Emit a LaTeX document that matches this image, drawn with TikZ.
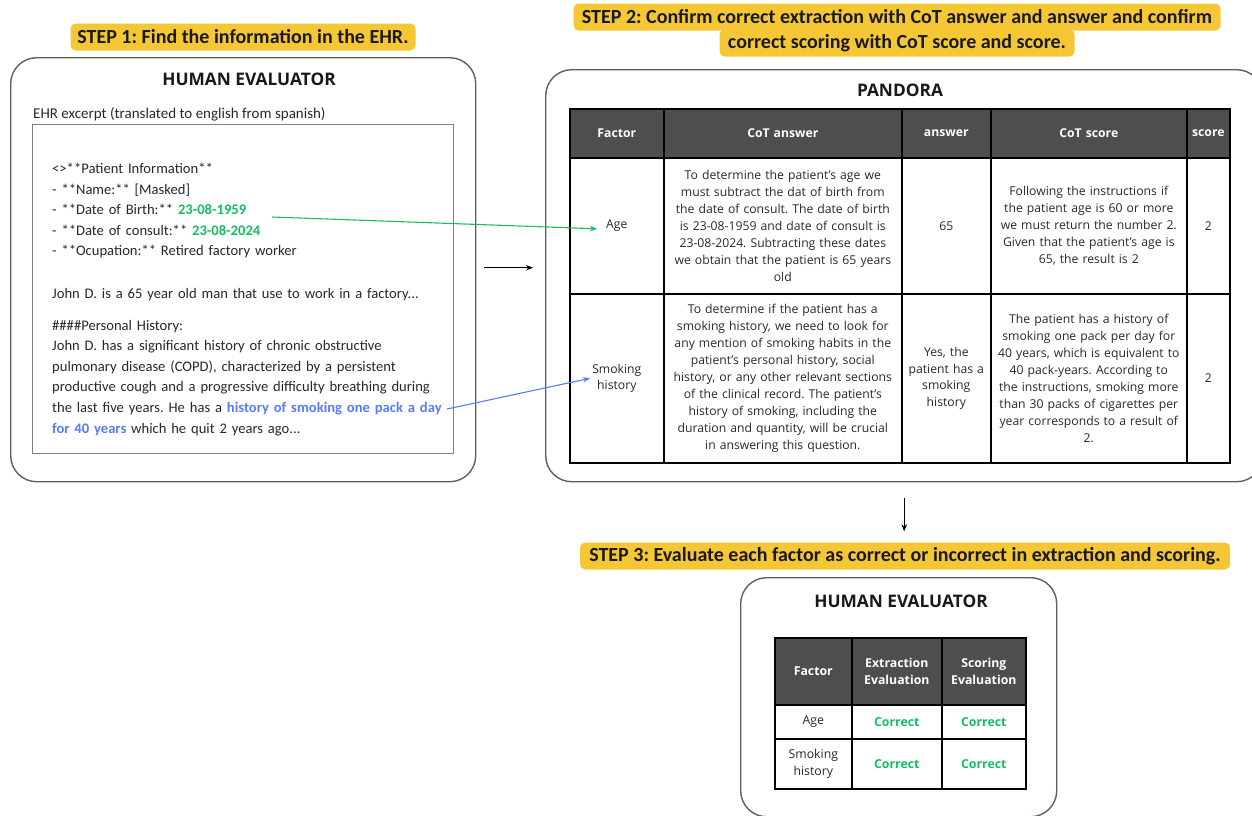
\documentclass[tikz,border=0pt]{standalone}
\usepackage{fontspec}
\setmainfont{Open Sans}
\newfontfamily\calibri{Carlito}
\frenchspacing
\usetikzlibrary{arrows.meta}
\usetikzlibrary{positioning}
\definecolor{stepyellow}{RGB}{245,199,52}
\definecolor{hdrgray}{RGB}{78,78,78}
\definecolor{panelgray}{RGB}{95,95,95}
\definecolor{hlgreen}{RGB}{20,190,96}
\definecolor{hlblue}{RGB}{88,122,255}
\definecolor{txt}{RGB}{40,40,40}
\tikzset{steplabel/.style = {fill=stepyellow, rounded corners=5pt, inner xsep=6pt,
                             minimum height=27pt, text=black!90,
                             font=\calibri\bfseries\fontsize{20}{22}\selectfont},
         panel/.style = {draw=panelgray, line width=1.4pt, rounded corners=26pt,
                         anchor=north west, inner sep=0pt},
         title/.style = {font=\bfseries\fontsize{17.3}{19}\selectfont, text=black!90},
         cell/.style = {draw=black, line width=1.6pt, anchor=north west, inner sep=0pt,
                        align=center, text=txt, font=\fontsize{12.2}{16.9}\selectfont},
         headcell/.style = {cell, fill=hdrgray, text=white,
                            font=\bfseries\fontsize{12.2}{16.9}\selectfont},
         okcell/.style = {cell, text=hlgreen, font=\bfseries\fontsize{12.3}{16.9}\selectfont},
         arrow/.style = {-{Stealth[length=7pt,width=5.5pt]}, line width=1.1pt}}

\begin{document}
\begin{tikzpicture}[x=1pt, y=-1pt]
  \useasboundingbox (0,0) rectangle (1252,815);

  \node [steplabel, minimum width=345pt] (step1) at (243,37) {STEP 1: Find the information in the EHR.};
  \node [steplabel, minimum width=647pt] (step2a) at (897,17) {STEP 2: Confirm correct extraction with CoT answer and answer and confirm};
  \node [steplabel, minimum width=355pt] (step2b) at (897,43) {correct scoring with CoT score and score.};
  \node [steplabel, minimum width=650pt] (step3) at (905,556) {STEP 3: Evaluate each factor as correct or incorrect in extraction and scoring.};

  \node [panel, minimum width=465pt, minimum height=424pt] (human) at (10,57) {};
  \node [title] (humantitle) at (249,79) {HUMAN EVALUATOR};
  \node [anchor=west, inner sep=0pt, text=txt, font=\calibri\fontsize{15}{17}\selectfont] (ehrcap) at (33,114) {EHR excerpt (translated to english from spanish)};
  \node [draw=gray, line width=0.8pt, anchor=north west, inner sep=0pt,
         minimum width=421pt, minimum height=329pt] (ehrbox) at (32,124) {};
  \node [anchor=north west, align=left, text width=400pt, inner sep=0pt, text=txt,
         font=\calibri\fontsize{14.6}{20.6}\selectfont] (ehrtext) at (52,163)
        {<>**Patient Information**\\
         - **Name:** [Masked]\\
         - **Date of Birth:** \textcolor{hlgreen}{\bfseries 23-08-1959}\\
         - **Date of consult:** \textcolor{hlgreen}{\bfseries 23-08-2024}\\
         - **Ocupation:** Retired factory worker\\[22pt]
         John D. is a 65 year old man that use to work in a factory...\\[11pt]
         \#\#\#\#Personal History:\\
         John D. has a significant history of chronic obstructive\\
         pulmonary disease (COPD), characterized by a persistent\\
         productive cough and a progressive difficulty breathing during\\
         the last five years. He has a \textcolor{hlblue}{\bfseries history of smoking one pack a day}\\
         \textcolor{hlblue}{\bfseries for 40 years} which he quit 2 years ago...};
  \coordinate (dobend) at (272,217);
  \coordinate (smokeend) at (447,409);

  \node [panel, minimum width=717pt, minimum height=412pt] (pandora) at (545,69) {};
  \node [title] (pandoratitle) at (900,90) {PANDORA};

  \node [headcell, minimum width=94pt, minimum height=49pt, text width=92pt] (hF) at (569,108) {Factor};
  \node [headcell, minimum width=238pt, minimum height=49pt, text width=236pt] (hCa) at (663,108) {CoT answer};
  \node [headcell, minimum width=89pt, minimum height=49pt, text width=87pt] (hA) at (901,108) {answer};
  \node [headcell, minimum width=196pt, minimum height=49pt, text width=194pt] (hCs) at (990,108) {CoT score};
  \node [headcell, minimum width=43pt, minimum height=49pt, text width=43pt] (hS) at (1186,108) {score};

  \node [cell, minimum width=94pt, minimum height=136pt, text width=92pt] (ageF) at (569,157) {Age};
  \node [cell, minimum width=238pt, minimum height=136pt, text width=238pt] (ageCa) at (663,157)
        {To determine the patient’s age we\\ must subtract the dat of birth from\\
         the date of consult. The date of birth\\ is 23-08-1959 and date of consult is\\
         23-08-2024. Subtracting these dates\\ we obtain that the patient is 65 years\\ old};
  \node [cell, minimum width=89pt, minimum height=136pt, text width=87pt] (ageA) at (901,157) {65};
  \node [cell, minimum width=196pt, minimum height=136pt, text width=196pt] (ageCs) at (990,157)
        {Following the instructions if\\ the patient age is 60 or more\\
         we must return the number 2.\\ Given that the patient’s age is\\ 65, the result is 2};
  \node [cell, minimum width=43pt, minimum height=136pt, text width=41pt] (ageS) at (1186,157) {2};

  \node [cell, minimum width=94pt, minimum height=169pt, text width=92pt] (smokeF) at (569,293) {Smoking\\ history};
  \node [cell, minimum width=238pt, minimum height=169pt, text width=238pt] (smokeCa) at (663,293)
        {To determine if the patient has a\\ smoking history, we need to look for\\
         any mention of smoking habits in the\\ patient's personal history, social\\
         history, or any other relevant sections\\ of the clinical record. The patient's\\
         history of smoking, including the\\ duration and quantity, will be crucial\\
         in answering this question.};
  \node [cell, minimum width=89pt, minimum height=169pt, text width=89pt] (smokeA) at (901,293)
        {Yes, the\\ patient has a\\ smoking\\ history};
  \node [cell, minimum width=196pt, minimum height=169pt, text width=196pt] (smokeCs) at (990,293)
        {The patient has a history of\\ smoking one pack per day for\\
         40 years, which is equivalent to\\ 40 pack-years. According to\\
         the instructions, smoking more\\ than 30 packs of cigarettes per\\
         year corresponds to a result of\\ 2.};
  \node [cell, minimum width=43pt, minimum height=169pt, text width=41pt] (smokeS) at (1186,293) {2};

  \node [panel, minimum width=316pt, minimum height=239pt] (review) at (740,577) {};
  \node [title] (reviewtitle) at (901,601) {HUMAN EVALUATOR};

  \node [headcell, minimum width=77pt, minimum height=67pt, text width=77pt,
         font=\bfseries\fontsize{12.3}{16.9}\selectfont] (rF) at (774,637) {Factor};
  \node [headcell, minimum width=90pt, minimum height=67pt, text width=90pt,
         font=\bfseries\fontsize{12.3}{16.9}\selectfont] (rE) at (851,637) {Extraction\\ Evaluation};
  \node [headcell, minimum width=84pt, minimum height=67pt, text width=84pt,
         font=\bfseries\fontsize{12.3}{16.9}\selectfont] (rS) at (941,637) {Scoring\\ Evaluation};
  \node [cell, minimum width=77pt, minimum height=34pt, text width=75pt,
         font=\fontsize{12.3}{16.9}\selectfont] (rageF) at (774,704) {Age};
  \node [okcell, minimum width=90pt, minimum height=34pt, text width=88pt] (rageE) at (851,704) {Correct};
  \node [okcell, minimum width=84pt, minimum height=34pt, text width=82pt] (rageS) at (941,704) {Correct};
  \node [cell, minimum width=77pt, minimum height=50pt, text width=75pt,
         font=\fontsize{12.3}{16.9}\selectfont] (rsmokeF) at (774,738) {Smoking\\ history};
  \node [okcell, minimum width=90pt, minimum height=50pt, text width=88pt] (rsmokeE) at (851,738) {Correct};
  \node [okcell, minimum width=84pt, minimum height=50pt, text width=82pt] (rsmokeS) at (941,738) {Correct};

  \draw [arrow, hlgreen] (dobend) -- ([xshift=28pt,yshift=-3pt]ageF.west);
  \draw [arrow, hlblue] (smokeend) -- ([xshift=21pt]smokeF.west);
  \draw [arrow] ([xshift=8pt,yshift=2pt]human.east) -- ([xshift=-12pt,yshift=2pt]human.east -| pandora.west);
  \draw [arrow] ([yshift=-16pt]pandora.south) -- ([yshift=11pt]pandora.south |- step3.north);
\end{tikzpicture}
\end{document}
